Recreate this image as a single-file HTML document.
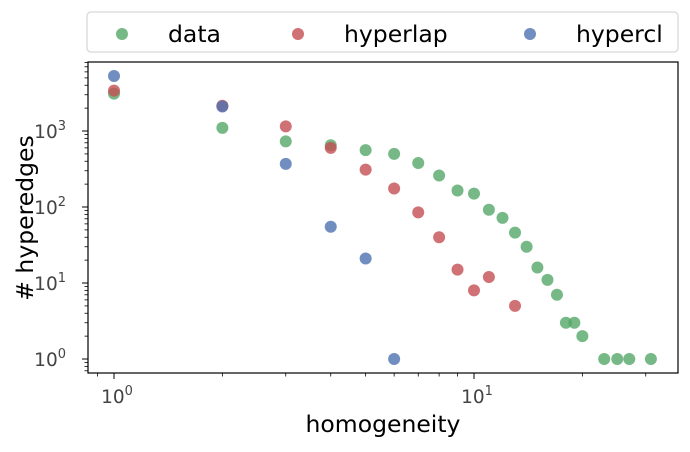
<!DOCTYPE html>
<html><head><meta charset="utf-8"><style>
body{margin:0;background:#fff;width:690px;height:448px;overflow:hidden;font-family:"DejaVu Sans","Liberation Sans",sans-serif}
</style></head><body>
<svg id="chart" width="690" height="448" xmlns="http://www.w3.org/2000/svg">
<g id="legend">
<rect x="87" y="12" width="591" height="40" rx="4" fill="#fff" stroke="#ddd" stroke-width="1.5"/>
<g><circle cx="122" cy="34" r="6" fill="#55a868" fill-opacity="0.8"/><text x="168" y="42" font-size="23.5" fill="#000">data</text></g>
<g><circle cx="298" cy="34" r="6" fill="#c44e52" fill-opacity="0.8"/><text x="344" y="42" font-size="23.5" fill="#000">hyperlap</text></g>
<g><circle cx="530" cy="34" r="6" fill="#4c72b0" fill-opacity="0.8"/><text x="576" y="42" font-size="23.5" fill="#000">hypercl</text></g>
</g>
<g id="marks"></g>
<g id="axes"></g>
<text x="383" y="432" font-size="23.5" text-anchor="middle" fill="#000">homogeneity</text>
<text transform="translate(33,218) rotate(-90)" font-size="23.5" text-anchor="middle" fill="#000"># hyperedges</text>
</svg>
<script>
const dataX=[1,2,3,4,5,6,7,8,9,10,11,12,13,14,15,16,17,18,19,20,23,25,27,31];
const dataY=[3100,1100,730,650,560,500,380,260,165,150,92,72,46,30,16,11,7,3,3,2,1,1,1,1];
const lapX=[1,2,3,4,5,6,7,8,9,10,11,13];
const lapY=[3400,2150,1150,600,310,175,85,40,15,8,12,5];
const clX=[1,2,3,4,5,6];
const clY=[5300,2100,370,55,21,1];
const xTickVals=[1,10];
const xTickLabels=["10","10"];
const xTickExp=["0","1"];
const yTickVals=[1,10,100,1000];
const yTickExp=["0","1","2","3"];
const L=88,R=678,T=62,B=373;
const xmin=-26/360,xmax=564/360,ymin=-0.184,ymax=3.908;
const sx=v=>L+(Math.log10(v)-xmin)/(xmax-xmin)*(R-L);
const sy=v=>B-(Math.log10(v)-ymin)/(ymax-ymin)*(B-T);
const NS="http://www.w3.org/2000/svg";
const marks=document.getElementById('marks'),axes=document.getElementById('axes');
function mk(t,a,p){const e=document.createElementNS(NS,t);for(const k in a)e.setAttribute(k,a[k]);p.appendChild(e);return e;}
const series=[[dataX,dataY,"#55a868","data"],[lapX,lapY,"#c44e52","hyperlap"],[clX,clY,"#4c72b0","hypercl"]];
series.forEach(s=>{s[0].forEach((x,i)=>{const c=mk('circle',{cx:sx(x),cy:sy(s[1][i]),r:6,fill:s[2],'fill-opacity':0.8},marks);

});});
const fr=mk('rect',{x:L,y:T,width:R-L,height:B-T,fill:'none',stroke:'#000','stroke-width':1.2},axes);


for(let d=0;d<=1;d++)for(let m=1;m<10;m++){const v=m*Math.pow(10,d);const x=sx(v);if(x<L||x>R)continue;
mk('line',{x1:x,x2:x,y1:B,y2:B+(m==1?6:3.5),stroke:'#000','stroke-width':m==1?1:0.8},axes);}
{const x=sx(0.9);if(x>=L)mk('line',{x1:x,x2:x,y1:B,y2:B+3.5,stroke:'#000','stroke-width':0.8},axes);}
xTickVals.forEach((v,i)=>{const t=mk('text',{x:sx(v)+3,y:B+30,'font-size':18.5,fill:'#444','text-anchor':'middle'},axes);


t.textContent=xTickLabels[i];const s=mk('tspan',{dy:-8,'font-size':13},t);s.textContent=xTickExp[i];});
for(let d=-1;d<=3;d++)for(let m=1;m<10;m++){const v=m*Math.pow(10,d);const y=sy(v);if(y<T||y>B)continue;
mk('line',{x1:L-(m==1?6:3.5),x2:L,y1:y,y2:y,stroke:'#000','stroke-width':m==1?1:0.8},axes);}
yTickVals.forEach((v,i)=>{const t=mk('text',{x:L-22,y:sy(v)+7,'font-size':18.5,fill:'#444','text-anchor':'end'},axes);


t.textContent='10';const s=mk('tspan',{dy:-8,'font-size':13},t);s.textContent=yTickExp[i];});
</script>
</body></html>
